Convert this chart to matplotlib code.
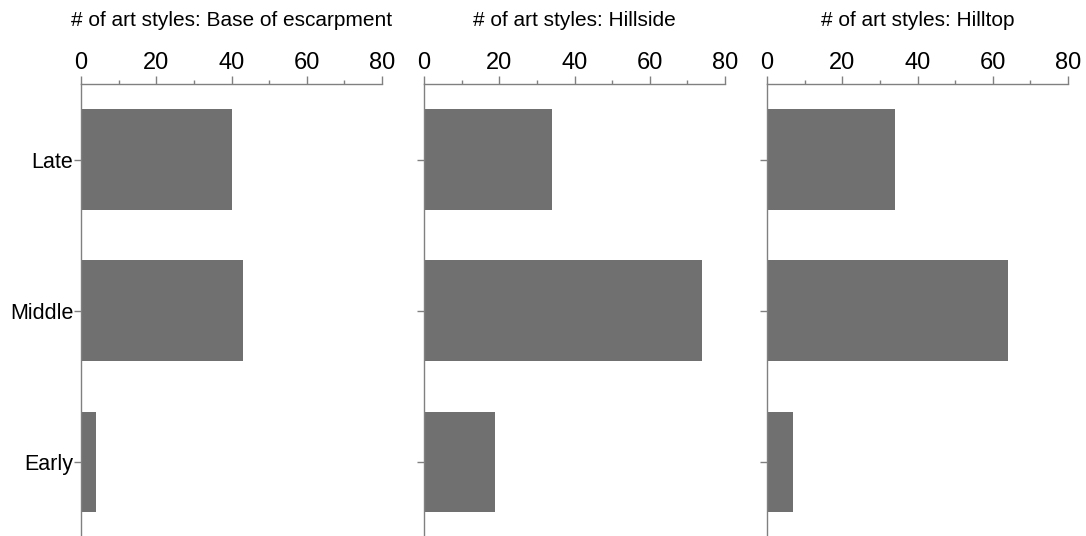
import matplotlib
matplotlib.use("Agg")
import matplotlib.pyplot as plt
from matplotlib.ticker import MultipleLocator

plt.rcParams['font.family'] = ['Liberation Sans', 'DejaVu Sans']

periods = ["Early", "Middle", "Late"]
titles = ["# of art styles: Base of escarpment",
          "# of art styles: Hillside",
          "# of art styles: Hilltop"]
base_escarpment = [4, 43, 40]
hillside = [19, 74, 34]
hilltop = [7, 64, 34]
panels = [base_escarpment, hillside, hilltop]

fig = plt.figure(figsize=(10.86, 5.36), dpi=100)
lefts = [81, 424, 767]
axis_col = "#808080"

for i, (vals, title) in enumerate(zip(panels, titles)):
    ax = fig.add_axes([lefts[i] / 1086, 0, 301 / 1086, 1 - 84 / 536])
    ax.barh(range(len(periods)), vals, height=0.667, color="#707070")
    ax.set_xlim(0, 80)
    ax.set_ylim(-0.49, 2.5)
    ax.xaxis.tick_top()
    ax.xaxis.set_major_locator(MultipleLocator(20))
    ax.xaxis.set_minor_locator(MultipleLocator(10))
    ax.tick_params(axis='x', which='major', length=5.5, width=1, color=axis_col,
                   labelsize=17, pad=1.5)
    ax.tick_params(axis='x', which='minor', length=3, width=1, color=axis_col)
    ax.set_yticks(range(len(periods)))
    if i == 0:
        ax.set_yticklabels(periods, fontsize=15.5)
    else:
        ax.set_yticklabels([])
    ax.tick_params(axis='y', length=5, width=1, color=axis_col, pad=0.5)
    for s in ['right', 'bottom']:
        ax.spines[s].set_visible(False)
    for s in ['top', 'left']:
        ax.spines[s].set_color(axis_col)
        ax.spines[s].set_linewidth(1)
    ax.set_title(title, fontsize=15, pad=42)

fig.savefig("out.png", dpi=100)
